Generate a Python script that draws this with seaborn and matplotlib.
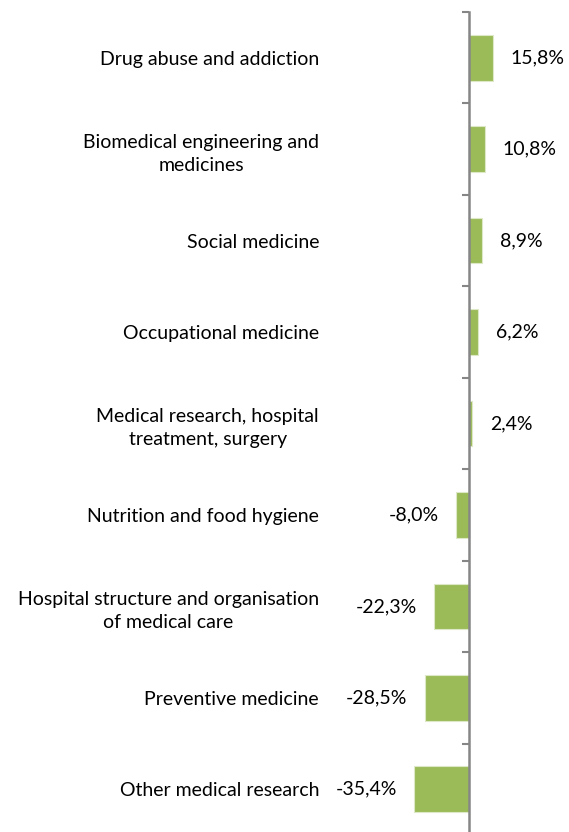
import matplotlib
matplotlib.use("Agg")
import matplotlib.pyplot as plt
import seaborn as sns
import pandas as pd

categories = [
    "Drug abuse and addiction",
    "Biomedical engineering and\nmedicines",
    "Social medicine",
    "Occupational medicine",
    "Medical research, hospital\ntreatment, surgery",
    "Nutrition and food hygiene",
    "Hospital structure and organisation\nof medical care",
    "Preventive medicine",
    "Other medical research",
]
changes = [15.8, 10.8, 8.9, 6.2, 2.4, -8.0, -22.3, -28.5, -35.4]

df = pd.DataFrame({"category": categories, "change": changes})

sns.set_style("white")
plt.rcParams["font.family"] = ["Lato", "DejaVu Sans"]

W, H = 569, 832
fig = plt.figure(figsize=(W / 100, H / 100), dpi=100)
# plot area: left edge just right of the category labels, zero line at ~468px
left_px, top_px, bottom_px = 326, 12, 835
ax = fig.add_axes([left_px / W, (H - bottom_px) / H, 1 - left_px / W, (bottom_px - top_px) / H])

green = "#9BBB59"
sns.barplot(data=df, x="change", y="category", orient="h", color=green,
            saturation=1, width=0.5, edgecolor="#dce8c6", linewidth=0.8, ax=ax)

ax.set_xlim(-92.5, 65)
ax.set_xlabel("")
ax.set_ylabel("")
ax.set_xticks([])
for s in ["top", "right", "bottom", "left"]:
    ax.spines[s].set_visible(False)
ax.tick_params(axis="y", length=0, pad=5, labelsize=14, labelcolor="#000000")
for lab in ax.get_yticklabels():
    lab.set_multialignment("center")
    lab.set_linespacing(1.45)

# zero axis with boundary ticks
n = len(categories)
ylim = (n - 0.5, -0.5)
ax.set_ylim(ylim)
ax2 = ax.twinx()
ax2.set_ylim(ylim)
for s in ["top", "left", "bottom"]:
    ax2.spines[s].set_visible(False)
ax2.spines["right"].set_position(("data", 0))
ax2.spines["right"].set_color("#868686")
ax2.spines["right"].set_linewidth(1.8)
ax2.set_yticks([i - 0.5 for i in range(n + 1)])
ax2.tick_params(axis="y", direction="in", length=5, width=1.5, color="#868686",
                labelright=False)

for i, v in enumerate(changes):
    txt = f"{v:.1f}%".replace(".", ",")
    ax.annotate(txt, (v, i), xytext=(12.5 if v >= 0 else -12.5, 0),
                textcoords="offset points", va="center",
                ha="left" if v >= 0 else "right", fontsize=14, color="#000000")

fig.savefig("out.png", dpi=100)
